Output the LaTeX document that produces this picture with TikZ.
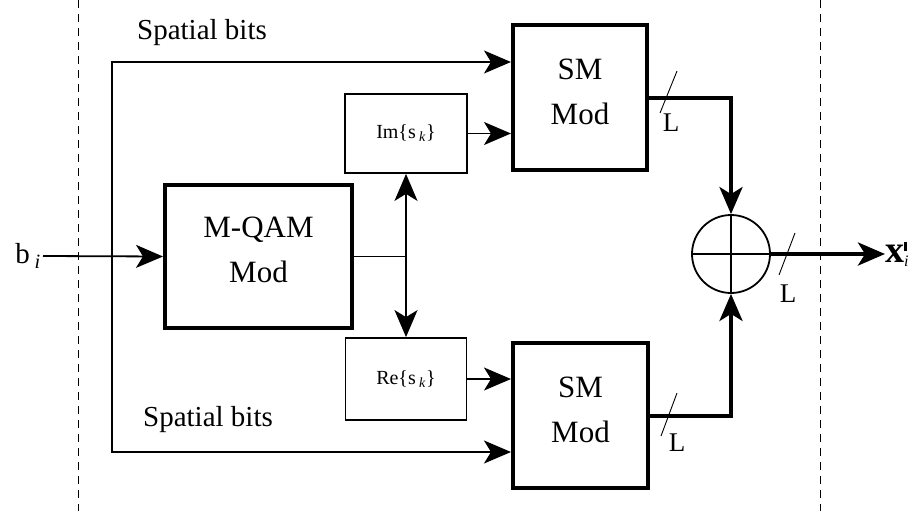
\documentclass[tikz,border=0pt]{standalone}
\usepackage{fontspec}
\setmainfont{Liberation Serif}
\usetikzlibrary{arrows.meta}
\begin{document}
\begin{tikzpicture}[x=1pt,y=-1pt,
  thinln/.style={line width=1.8pt},
  thickln/.style={line width=4pt},
  arr/.style={-{Stealth[length=27pt,width=23pt,inset=7pt]}},
  darr/.style={{Stealth[length=27pt,width=23pt,inset=7pt]}-{Stealth[length=27pt,width=23pt,inset=7pt]}},
  bigbox/.style={draw,line width=4pt,inner sep=0pt,align=center,font=\fontsize{31}{45}\selectfont},
  smallbox/.style={draw,line width=1.8pt,inner sep=0pt,font=\fontsize{20}{24}\selectfont},
  lbl/.style={font=\fontsize{29}{34}\selectfont,inner sep=0pt},
  slashln/.style={line width=0.9pt},
  Llbl/.style={font=\fontsize{27}{32}\selectfont,inner sep=0pt},
  divline/.style={dash pattern=on 8pt off 6pt,line width=1pt}]
\useasboundingbox (0,0) rectangle (923,511);
% separators
\draw[divline] (78,0) -- (78,511);
\draw[divline] (820,0) -- (820,511);
% blocks
\node[bigbox,minimum width=187pt,minimum height=143pt] (mqam) at (258.5,256.5) {M-QAM\\Mod\rule[-14pt]{0pt}{14pt}};
\node[smallbox,minimum width=122pt,minimum height=79pt] (im) at (406,133.5) {Im\{s\,\textsubscript{\textit{k}}\}};
\node[smallbox,minimum width=121pt,minimum height=82pt] (re) at (406,379) {Re\{s\,\textsubscript{\textit{k}}\}};
\node[bigbox,minimum width=134pt,minimum height=145pt] (smtop) at (580,97.5) {SM\\Mod\rule[-12pt]{0pt}{12pt}};
\node[bigbox,minimum width=135pt,minimum height=145pt] (smbot) at (580.5,415.5) {SM\\Mod\rule[-12pt]{0pt}{12pt}};
\node[draw,circle,line width=1.8pt,minimum size=78pt,inner sep=0pt] (sum) at (731,254) {};
\draw[line width=1.8pt] (sum.north) -- (sum.south) (sum.west) -- (sum.east);
% labels
\node[lbl,anchor=east] (bi) at (41,256) {b\,\textsubscript{\textit{i}}};
\node[lbl] (sbtop) at (202,33) {Spatial bits};
\node[lbl] (sbbot) at (208,420) {Spatial bits};
\node[inner sep=0pt,anchor=west,font=\fontsize{38}{44}\selectfont] (xout) at (885,254) {\textbf{x}\raisebox{-4pt}{\fontsize{16}{18}\selectfont\textit{i}}\kern-5pt\raisebox{11pt}{\rule{3.5pt}{9pt}}};
% input
\coordinate (j) at (112,256);
\draw[thinln,arr] (bi.east) ++(2,0) -- (mqam.west);
\draw[thinln,arr] (j) |- (smtop.west |- 0,62);
\draw[thinln,arr] (j) |- (smbot.west |- 0,452);
% modulator outputs
\coordinate (m) at (406,256.5);
\draw[thinln] (mqam.east) -- (m);
\draw[thinln,darr] (im.south) -- (re.north);
\draw[thinln,arr] (im.east) -- (smtop.west |- im.east);
\draw[thinln,arr] (re.east) -- (smbot.west |- re.east);
% SM outputs
\draw[thickln,arr] (smtop.east) -| (sum.north);
\draw[thickln,arr] (smbot.east) -| (sum.south);
\draw[thickln,arr] (sum.east) -- (xout.west);
% bus markers
\draw[slashln] (677,71) -- (660,113);
\node[Llbl] (l1) at (671,123) {L};
\draw[slashln] (677,393) -- (661,436);
\node[Llbl] (l2) at (677,443) {L};
\draw[slashln] (795,233) -- (779,275);
\node[Llbl] (l3) at (788,294) {L};
\end{tikzpicture}
\end{document}
